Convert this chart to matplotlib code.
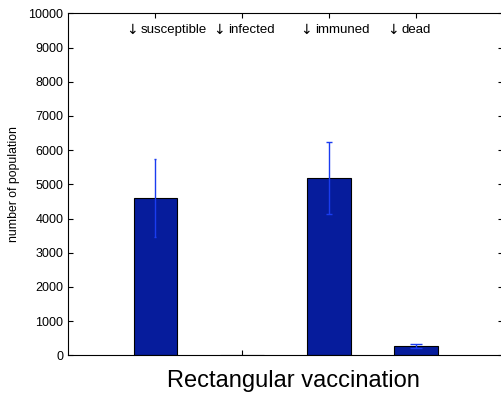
import matplotlib
matplotlib.use("Agg")
import matplotlib.pyplot as plt

# population counts at the end of the run, with spread
categories = ["susceptible", "infected", "immuned", "dead"]
means = [4600, 0, 5190, 260]
errors = [1130, 0, 1060, 60]
cap_sizes = [1, 0, 2, 4]

bar_color = "#061c9c"
err_color = "#1a3cf0"

plt.rcParams["font.family"] = ["Liberation Sans", "DejaVu Sans"]

fig = plt.figure(figsize=(5.02, 3.96), dpi=100)
ax = fig.add_axes([68.3 / 502, 40.7 / 396, 434.7 / 502, 342.0 / 396])

xpos = list(range(1, len(categories) + 1))
ax.bar(xpos, means, width=0.5, color=bar_color, edgecolor="black", linewidth=0.8, zorder=2)
for x, m, e, c in zip(xpos, means, errors, cap_sizes):
    if e > 0:
        ax.errorbar(x, m, yerr=e, fmt="none", ecolor=err_color, elinewidth=1.0,
                    capsize=c, capthick=1.0, zorder=3)

# arrow markers above each bar, then the category name
for x, name in zip(xpos, categories):
    ax.text(x - 0.335, 9500, "\u2193", ha="left", va="center", fontsize=10,
            family="DejaVu Sans")
    ax.text(x - 0.165, 9500, name, ha="left", va="center", fontsize=9.5)

ax.set_xlim(0, 5)
ax.set_ylim(0, 10000)
ax.set_xticks(xpos)
ax.set_xticklabels([])
ax.set_yticks(range(0, 10001, 1000))
ax.tick_params(direction="in", top=True, right=True, length=3.5, width=0.8, labelsize=9)
for s in ax.spines.values():
    s.set_linewidth(0.8)

ax.set_ylabel("number of population", fontsize=8.8)
ax.yaxis.set_label_coords(-0.111, 0.5)
fig.text(293 / 502, 1 - 381 / 396, "Rectangular vaccination", ha="center", va="center", fontsize=17)

fig.savefig("out.png", dpi=100)
